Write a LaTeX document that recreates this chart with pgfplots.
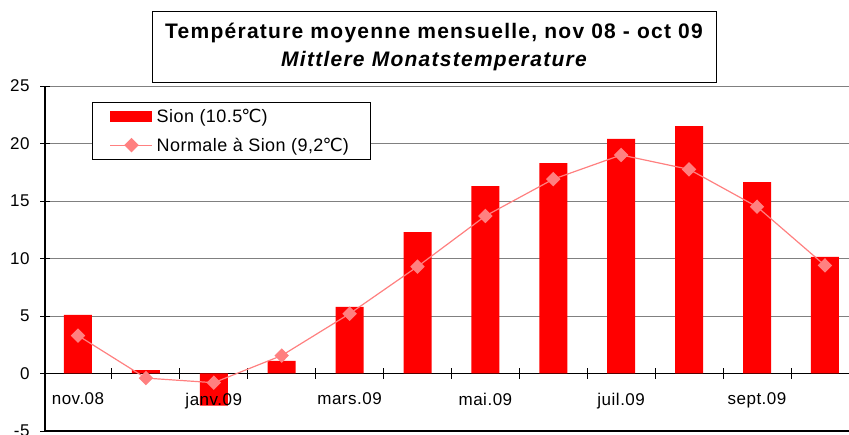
\documentclass[border=0pt]{standalone}
\usepackage{pgfplots}
\pgfplotsset{compat=1.18}
\usepackage{fontspec}
\setmainfont{Liberation Sans}
\newfontfamily\dejavu{DejaVu Sans}
\definecolor{barred}{RGB}{255,0,0}
\definecolor{normline}{RGB}{255,128,128}
\definecolor{gridgray}{RGB}{128,128,128}
\newcommand{\degc}{{\dejavu\kern-0.05em ℃}}
\pgfplotsset{
  common/.style={
    at={(0pt,0pt)}, anchor=south west,
    scale only axis,
    width=804pt, height=345pt,
    xmin=-0.486, xmax=11.355,
    ymin=-5, ymax=25,
    /pgf/number format/assume math mode=true,
    ticklabel style={font=\fontsize{17}{20}\selectfont\addfontfeature{LetterSpace=3}},
  },
}
\begin{document}
\begin{tikzpicture}
\useasboundingbox (-45pt,-3pt) rectangle (804pt,431pt);
\begin{axis}[
  common,
  axis x line*=middle,
  axis y line*=left,
  axis line style={black, line width=1.1pt},
  ytick={-5,0,5,10,15,20,25},
  xtick={0.5,1.5,...,10.5},
  xticklabels={},
  tick align=center,
  major tick length=10pt,
  tick style={black, line width=0.9pt},
  ymajorgrids,
  grid style={gridgray, line width=0.9pt},
  yticklabel style={xshift=-7pt},
  legend style={
    at={(0.05846,0.9536)}, anchor=north west,
    draw=black, line width=0.8pt,
    inner xsep=17.5pt, inner ysep=3.5pt,
    font=\fontsize{18}{21}\selectfont\addfontfeature{LetterSpace=2.5},
    nodes={inner xsep=3.6pt, inner ysep=3pt},
    row sep=8pt,
    legend cell align=left,
  },
]
\addplot[ybar, bar width=28pt, fill=barred, draw=none,
  legend image code/.code={\fill[barred] (0pt,-5.5pt) rectangle (42pt,5.5pt);}]
coordinates {
 (0,5.1) (1,0.3) (2,-2.8) (3,1.1) (4,5.8) (5,12.3)
 (6,16.3) (7,18.3) (8,20.4) (9,21.5) (10,16.65) (11,10.15)
};
\addlegendentry{Sion (10.5\degc)}
\addplot[normline, line width=1.2pt, mark=diamond*,
  mark options={solid, fill=normline, draw=normline, xscale=1.33},
  mark size=6.4pt,
  legend image code/.code={\draw[normline, line width=1.2pt] (0pt,0pt) -- (42pt,0pt);
    \draw[normline, line width=1.2pt, mark=diamond*, mark size=6.4pt,
      mark options={solid, fill=normline, draw=normline, xscale=1.33}] plot coordinates {(21pt,0pt)};}]
coordinates {
 (0,3.3) (1,-0.4) (2,-0.8) (3,1.56) (4,5.2) (5,9.3)
 (6,13.7) (7,16.9) (8,19.0) (9,17.75) (10,14.5) (11,9.4)
};
\addlegendentry{Normale à Sion (9,2\degc)}
\draw[black, line width=1.5pt] (rel axis cs:0,0) -- (rel axis cs:1,0);
\end{axis}
\begin{axis}[
  common,
  axis x line*=middle,
  axis y line=none,
  x axis line style={draw=none},
  xtick={0,2,4,6,8,10},
  xticklabels={nov.08,janv.09,mars.09,mai.09,juil.09,sept.09},
  major tick length=0pt,
  xticklabel style={yshift=-16pt},
]
\end{axis}
\node[draw=black, line width=0.8pt, minimum width=564pt, minimum height=71pt,
  align=center, inner sep=0pt, font=\fontsize{21}{28}\selectfont\bfseries\addfontfeature{LetterSpace=6}]
  at (389pt,384pt) {Température moyenne mensuelle, nov 08 - oct 09\\ \itshape Mittlere Monatstemperature};
\end{tikzpicture}
\end{document}
